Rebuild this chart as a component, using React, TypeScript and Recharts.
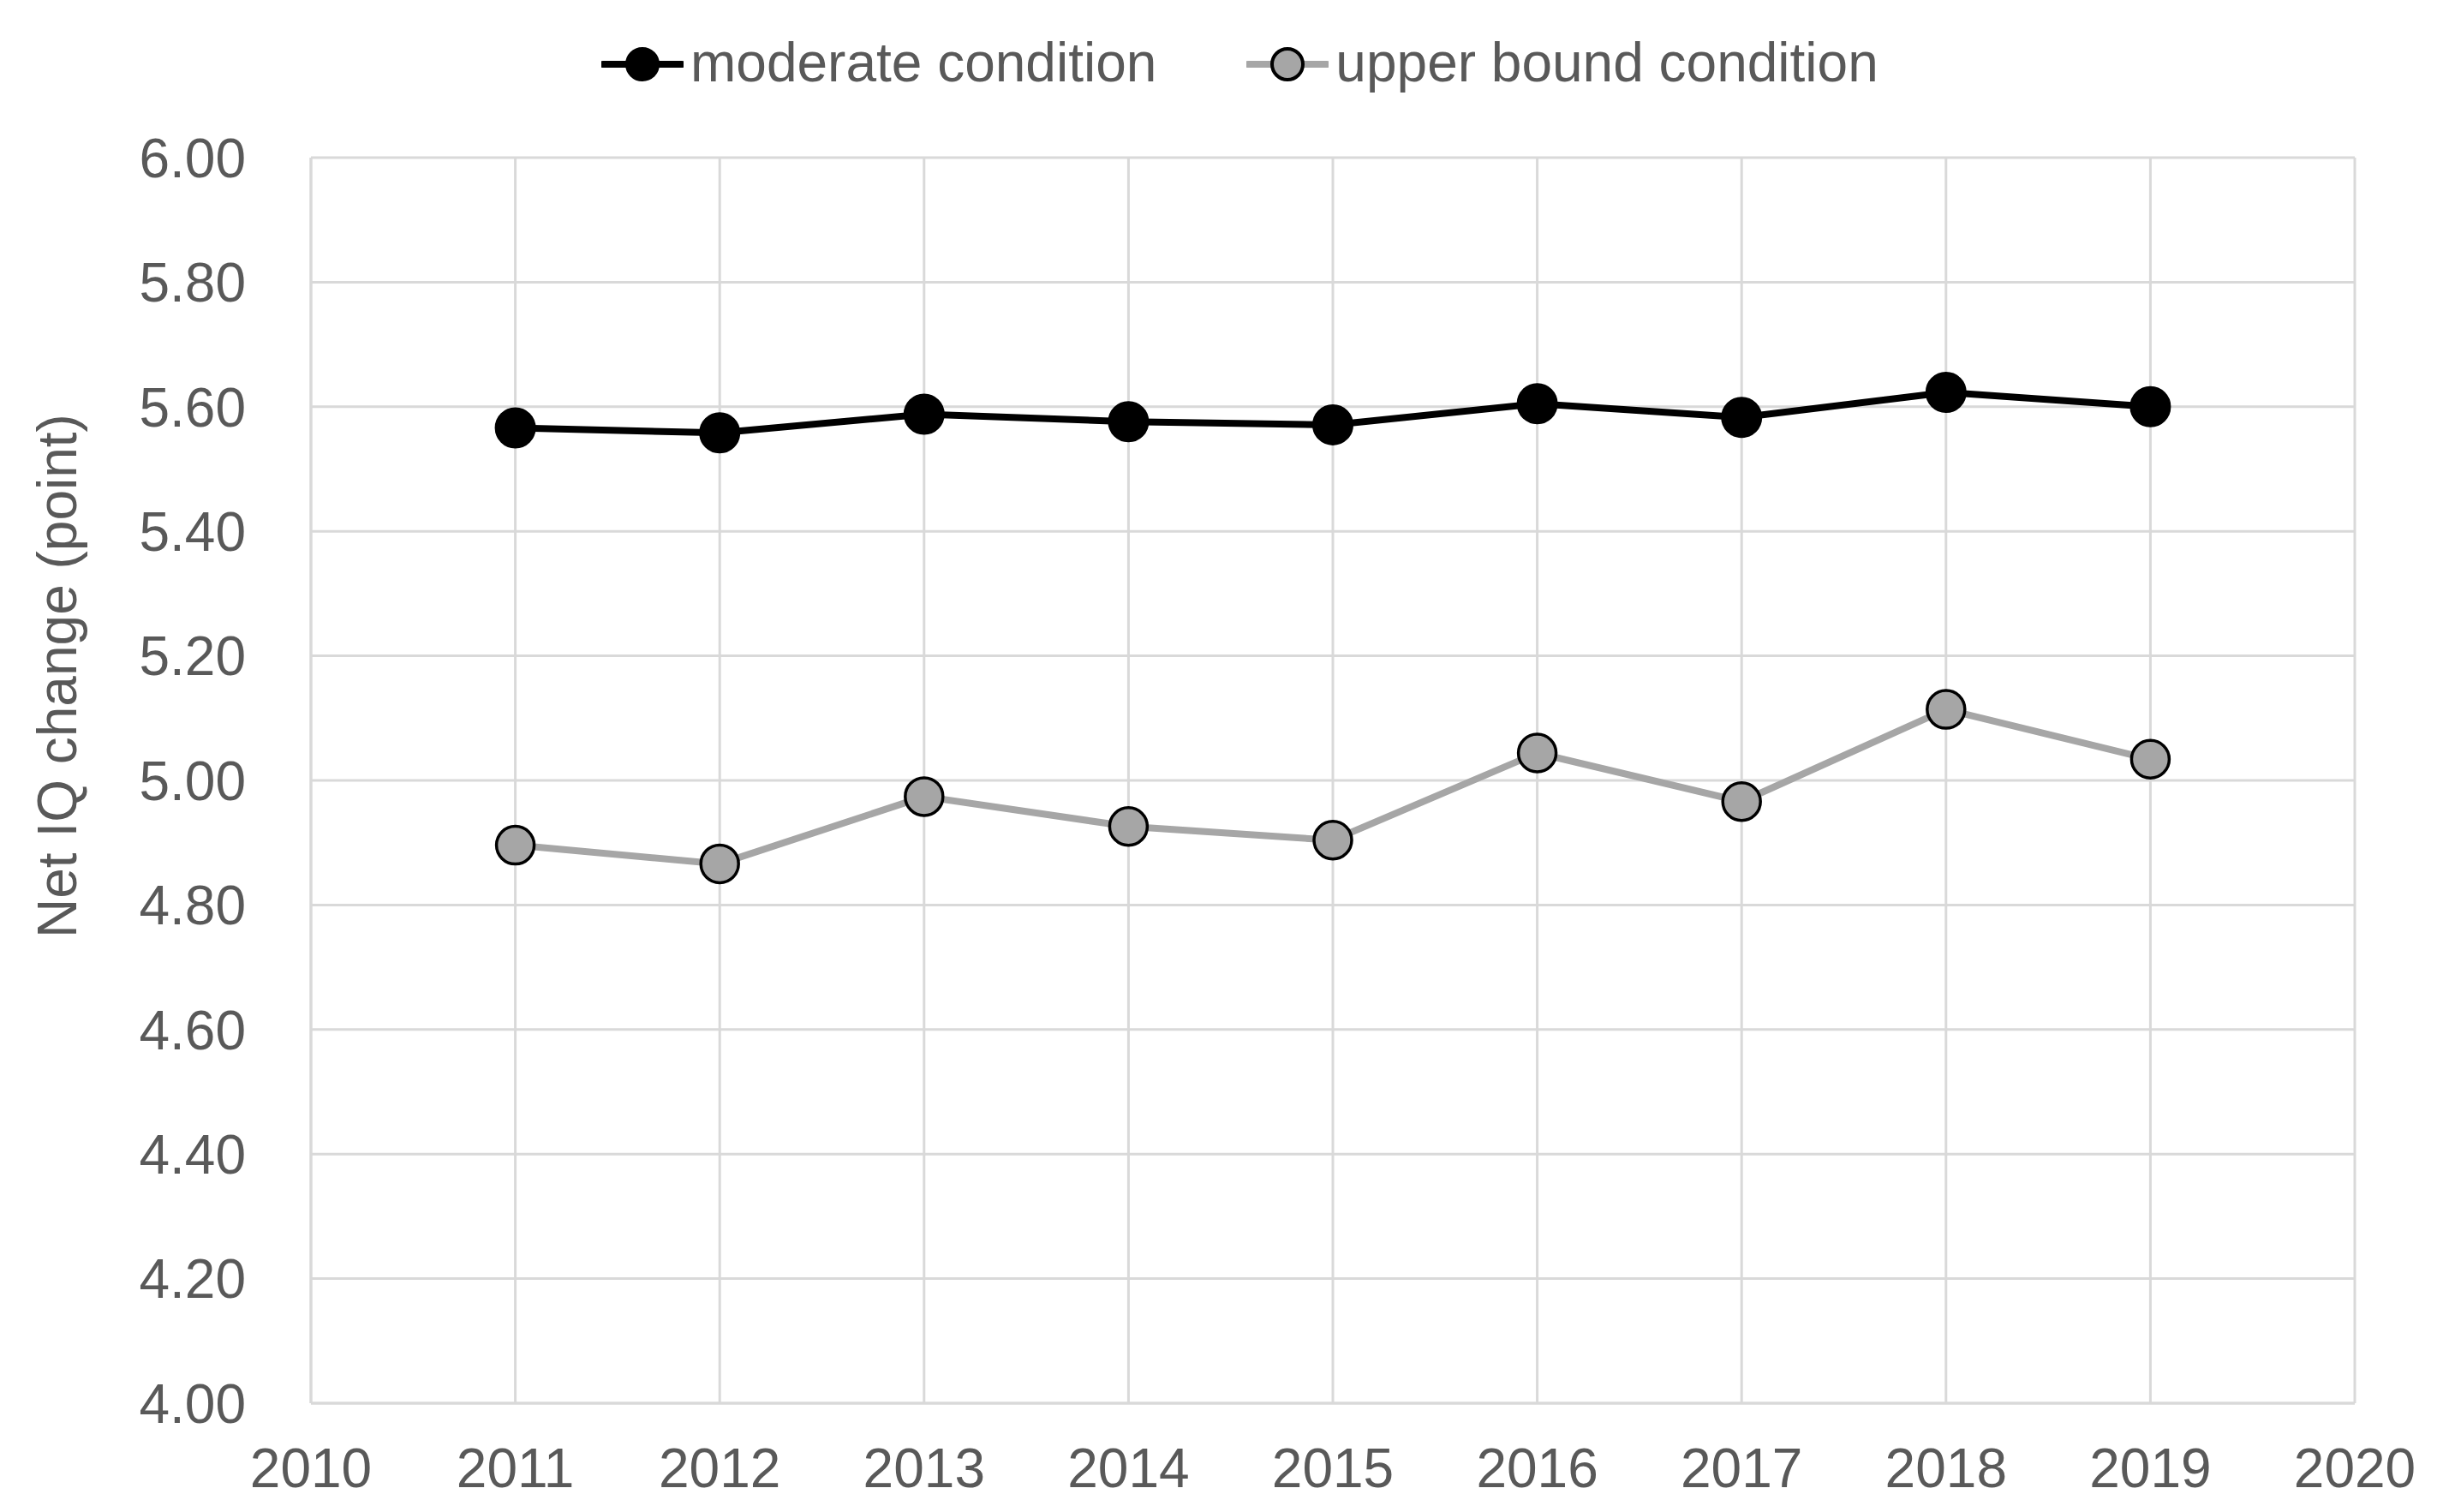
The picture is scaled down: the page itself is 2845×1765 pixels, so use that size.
import { LineChart, CartesianGrid, XAxis, YAxis, Line, Label } from 'recharts'

const years = [2011, 2012, 2013, 2014, 2015, 2016, 2017, 2018, 2019]
const moderate = [5.566, 5.558, 5.588, 5.576, 5.571, 5.605, 5.583, 5.623, 5.600]
const upperBound = [4.896, 4.866, 4.974, 4.926, 4.904, 5.044, 4.966, 5.114, 5.034]
const xTicks = [2010, 2011, 2012, 2013, 2014, 2015, 2016, 2017, 2018, 2019, 2020]
const yTicks = [4.0, 4.2, 4.4, 4.6, 4.8, 5.0, 5.2, 5.4, 5.6, 5.8, 6.0]

const font = '"Liberation Sans", Arial, sans-serif'
const textColor = '#595959'
const gridColor = '#d9d9d9'

const series = [
    { key: 'moderate', name: 'moderate condition', line: '#000000', fill: '#000000', r: 23, sw: 2 },
    { key: 'upper', name: 'upper bound condition', line: '#a6a6a6', fill: '#a6a6a6', r: 22, sw: 3.5 },
]

function LegendRow() {
    return (
        <div style={{ position: 'absolute', left: 694, top: 33, display: 'flex', alignItems: 'center', fontFamily: font, fontSize: 64, lineHeight: '64px', color: textColor }}>
            {series.map((s, i) => (
                <div key={s.key} style={{ display: 'flex', alignItems: 'center', marginLeft: i === 0 ? 0 : 105 }}>
                    <svg width={96} height={50} style={{ display: 'block' }}>
                        <line x1={2} y1={27} x2={94} y2={27} stroke={s.line} strokeWidth={8} strokeLinecap="round" />
                        <circle cx={48} cy={27} r={18} fill={s.fill} stroke="#000" strokeWidth={4} />
                    </svg>
                    <span style={{ marginLeft: 8, whiteSpace: 'nowrap' }}>{s.name}</span>
                </div>
            ))}
        </div>
    )
}

function YTitle({ viewBox }) {
    const cx = 59
    const cy = viewBox.y + viewBox.height / 2 - 122
    return (
        <text x={cx} y={cy} transform={`rotate(-90, ${cx}, ${cy})`} textAnchor="middle" dominantBaseline="central"
            fill={textColor} fontSize={64} fontFamily={font}>
            Net IQ change (point)
        </text>
    )
}

function App() {
    const data = years.map((y, i) => ({ year: y, moderate: moderate[i], upper: upperBound[i] }))

    return (
        <div style={{ position: 'relative', width: 2829, height: 1749 }}>
            <LineChart width={2829} height={1749} data={data}
                margin={{ top: 176, right: 88, bottom: 0, left: 0 }}>
                <CartesianGrid stroke={gridColor} strokeWidth={3} />
                <XAxis type="number" dataKey="year" domain={[2010, 2020]} ticks={xTicks} interval={0}
                    height={119} tickLine={false} tickSize={0} tickMargin={53}
                    axisLine={{ stroke: gridColor, strokeWidth: 3 }}
                    tick={{ fill: textColor, fontSize: 64, fontFamily: font }} />
                <YAxis domain={[4, 6]} ticks={yTicks} interval={0} width={355}
                    tickLine={false} tickSize={0} tickMargin={76}
                    axisLine={{ stroke: gridColor, strokeWidth: 3 }}
                    tickFormatter={(v) => v.toFixed(2)}
                    tick={{ fill: textColor, fontSize: 64, fontFamily: font }}>
                    <Label content={YTitle} />
                </YAxis>
                {series.map((s) => (
                    <Line key={s.key} type="linear" dataKey={s.key} name={s.name} stroke={s.line} strokeWidth={8}
                        dot={{ r: s.r, fill: s.fill, stroke: '#000', strokeWidth: s.sw }} activeDot={false}
                        isAnimationActive={false} />
                ))}
            </LineChart>
            <LegendRow />
        </div>
    )
}

export default App
